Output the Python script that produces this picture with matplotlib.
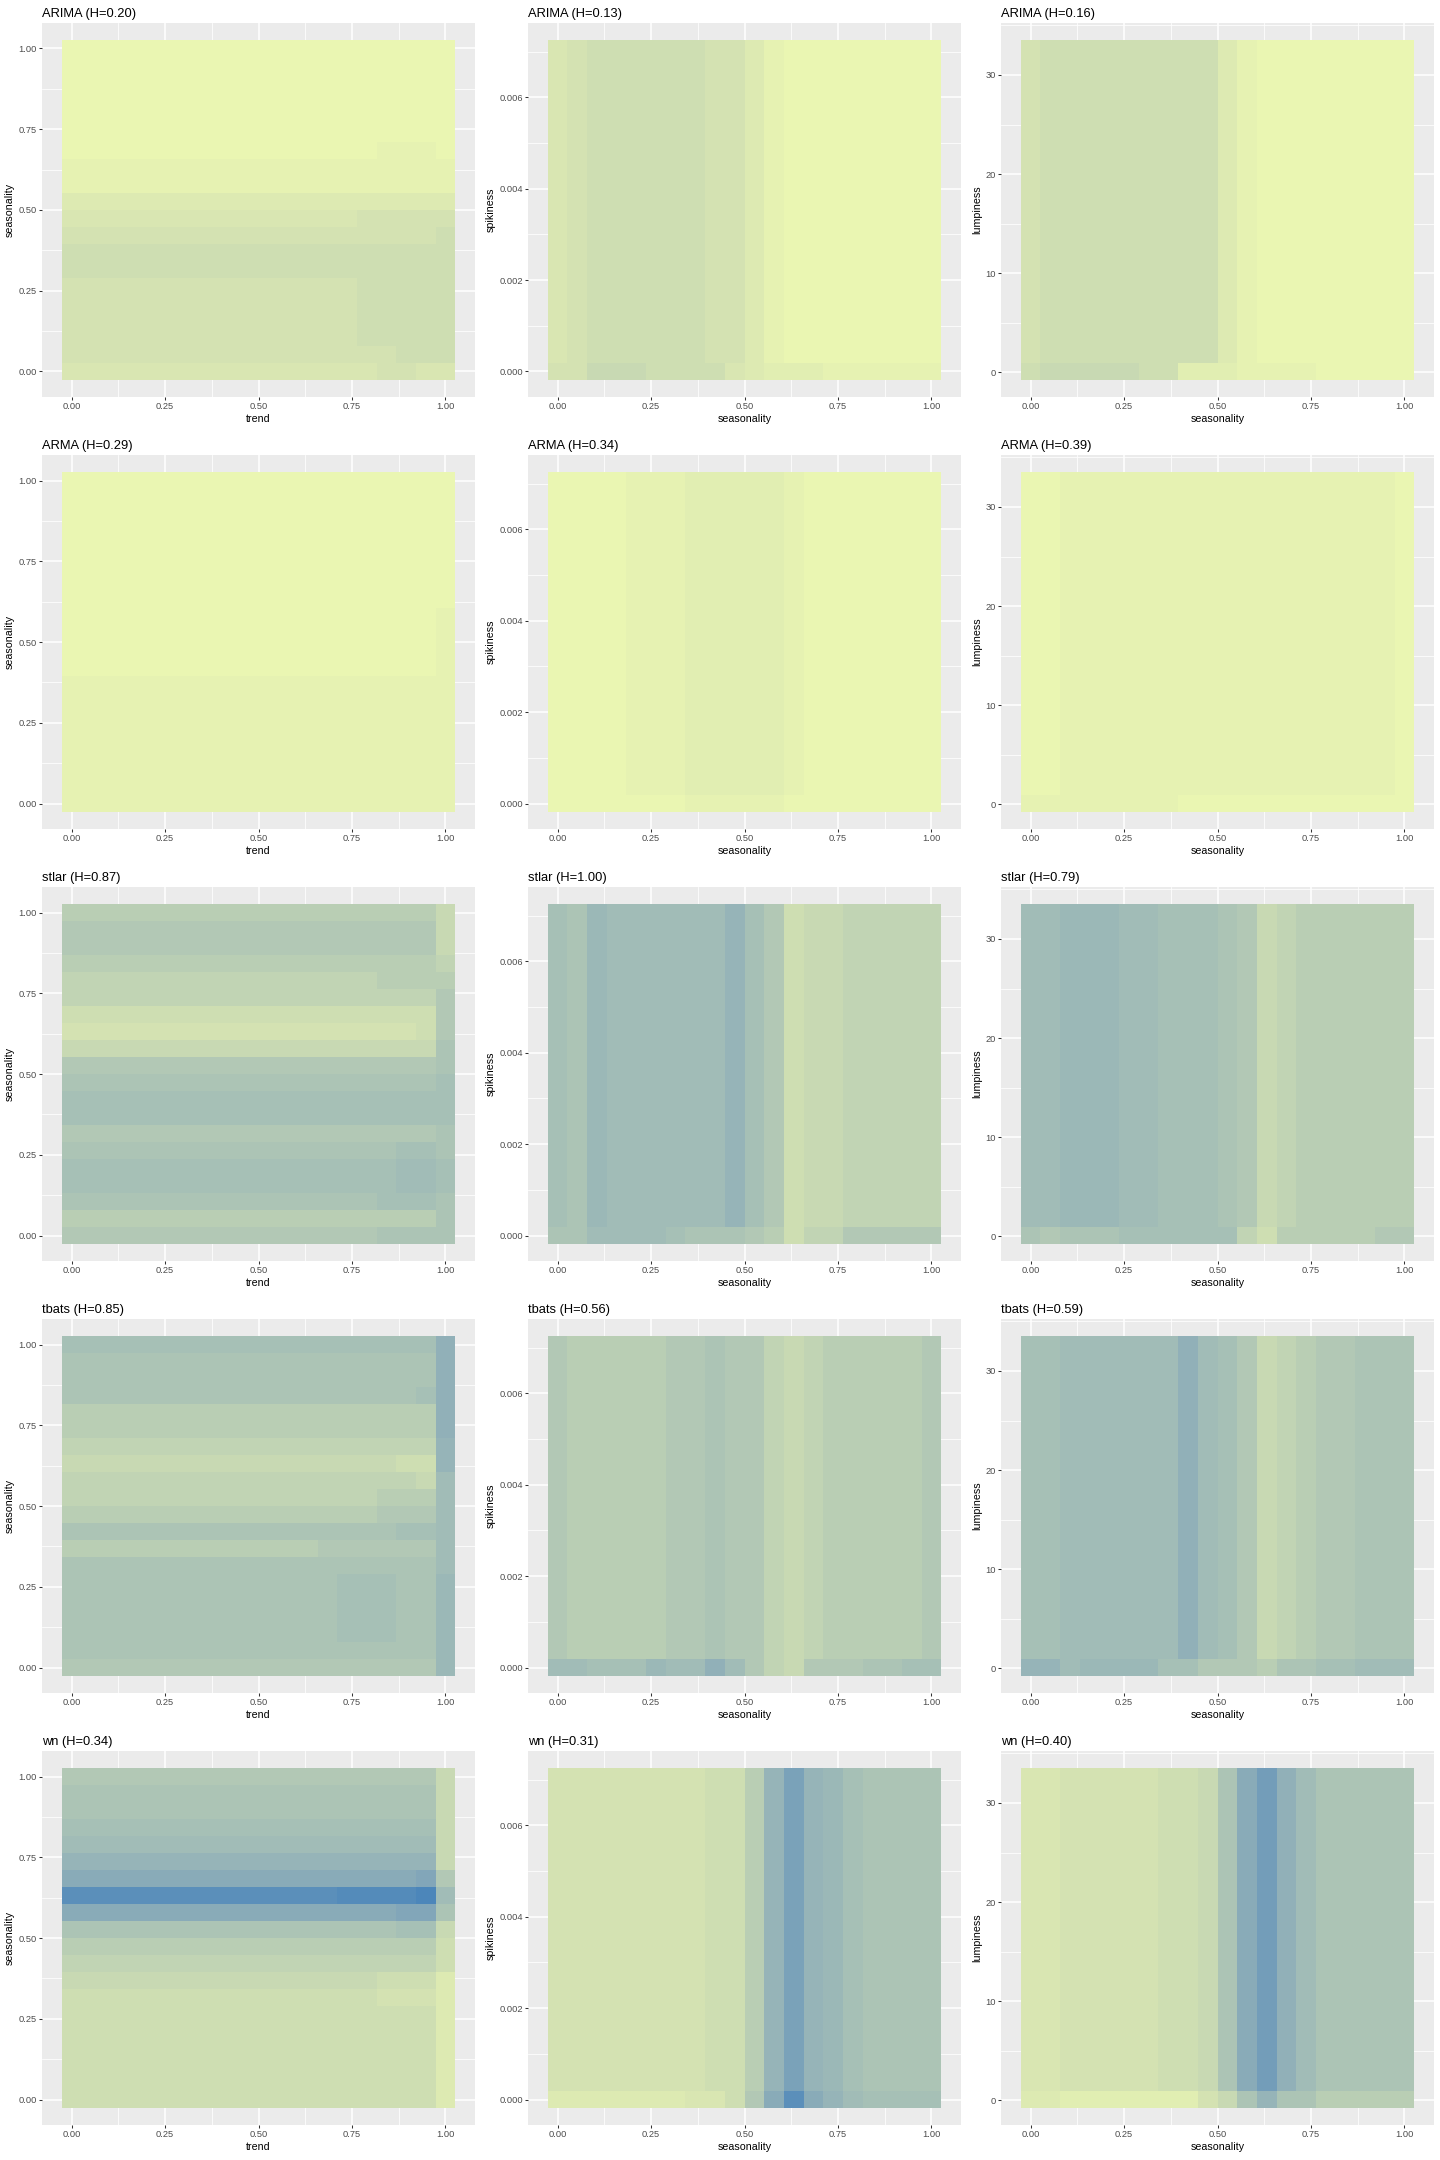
import numpy as np
import matplotlib
matplotlib.use('Agg')
import matplotlib.pyplot as plt
from matplotlib.colors import LinearSegmentedColormap

plt.rcParams['font.family'] = ['Liberation Sans', 'DejaVu Sans']

# fill level of each tile, coded a (low, yellow) .. z (high, blue)
LEVELS = 'abcdefghijklmnopqrstuvwxyz'

# grid points of the partial dependence (20 per feature)
trend_grid = np.linspace(0.0, 1.0, 20)
seasonality_grid = np.linspace(0.0, 1.0, 20)
spikiness_grid = np.linspace(0.0, 0.00707, 20)
lumpiness_grid = np.linspace(0.1, 32.67, 20)

titles = ['ARIMA (H=0.20)', 'ARIMA (H=0.13)', 'ARIMA (H=0.16)',
          'ARMA (H=0.29)', 'ARMA (H=0.34)', 'ARMA (H=0.39)',
          'stlar (H=0.87)', 'stlar (H=1.00)', 'stlar (H=0.79)',
          'tbats (H=0.85)', 'tbats (H=0.56)', 'tbats (H=0.59)',
          'wn (H=0.34)', 'wn (H=0.31)', 'wn (H=0.40)']

# trend x seasonality panels: one string per seasonality row (bottom -> top),
# one char per trend column (left -> right)
arima_ts = ['eeeeeeeeeeeeeeeeffee',
            'fffffffffffffffffggg',
            'fffffffffffffffggggg',
            'fffffffffffffffggggg',
            'fffffffffffffffggggg',
            'fffffffffffffffggggg',
            'gggggggggggggggggggg',
            'gggggggggggggggggggg',
            'fffffffffffffffffffg',
            'eeeeeeeeeeeeeeefffff',
            'dddddddddddddddddddd',
            'bbbbbbbbbbbbbbbbbbbb',
            'bbbbbbbbbbbbbbbbbbbb',
            'aaaaaaaaaaaaaaaabbba',
            'aaaaaaaaaaaaaaaaaaaa',
            'aaaaaaaaaaaaaaaaaaaa',
            'aaaaaaaaaaaaaaaaaaaa',
            'aaaaaaaaaaaaaaaaaaaa',
            'aaaaaaaaaaaaaaaaaaaa',
            'aaaaaaaaaaaaaaaaaaaa']
arma_ts = ['bbbbbbbbbbbbbbbbbbbb',
           'bbbbbbbbbbbbbbbbbbbb',
           'bbbbbbbbbbbbbbbbbbbb',
           'bbbbbbbbbbbbbbbbbbbb',
           'bbbbbbbbbbbbbbbbbbbb',
           'bbbbbbbbbbbbbbbbbbbb',
           'bbbbbbbbbbbbbbbbbbbb',
           'bbbbbbbbbbbbbbbbbbbb',
           'aaaaaaaaaaaaaaaaaaab',
           'aaaaaaaaaaaaaaaaaaab',
           'aaaaaaaaaaaaaaaaaaab',
           'aaaaaaaaaaaaaaaaaaab',
           'aaaaaaaaaaaaaaaaaaaa',
           'aaaaaaaaaaaaaaaaaaaa',
           'aaaaaaaaaaaaaaaaaaaa',
           'aaaaaaaaaaaaaaaaaaaa',
           'aaaaaaaaaaaaaaaaaaaa',
           'aaaaaaaaaaaaaaaaaaaa',
           'aaaaaaaaaaaaaaaaaaaa',
           'aaaaaaaaaaaaaaaaaaaa']
stlar_ts = ['kkkkkkkkkkkkkkkkllll',
            'jjjjjjjjjjjjjjjjjjjl',
            'llllllllllllllllmmml',
            'mmmmmmmmmmmmmmmmmnnm',
            'mmmmmmmmmmmmmmmmmnnm',
            'lllllllllllllllllmml',
            'kkkkkkkkkkkkkkkkkkkl',
            'mmmmmmmmmmmmmmmmmmmm',
            'mmmmmmmmmmmmmmmmmmmm',
            'lllllllllllllllllllm',
            'kkkkkkkkkkkkkkkkkkkl',
            'hhhhhhhhhhhhhhhhhhhl',
            'ffffffffffffffffffgk',
            'gggggggggggggggggggk',
            'iiiiiiiiiiiiiiiiiiik',
            'iiiiiiiiiiiiiiiijjjj',
            'jjjjjjjjjjjjjjjjjjji',
            'kkkkkkkkkkkkkkkkkkkh',
            'kkkkkkkkkkkkkkkkkkkh',
            'jjjjjjjjjjjjjjjjjjjh']
tbats_ts = ['kkkkkkkkkkkkkkkkkkko',
            'lllllllllllllllllllo',
            'llllllllllllllmmmllo',
            'llllllllllllllmmmllo',
            'llllllllllllllmmmllo',
            'llllllllllllllmmmllo',
            'llllllllllllllllllln',
            'jjjjjjjjjjjjjkkkkkkn',
            'lllllllllllllllllmmn',
            'jjjjjjjjjjjjjjjjkkkn',
            'iiiiiiiiiiiiiiiijjjn',
            'iiiiiiiiiiiiiiiiiihn',
            'hhhhhhhhhhhhhhhhhggp',
            'iiiiiiiiiiiiiiiiiiip',
            'jjjjjjjjjjjjjjjjjjjq',
            'jjjjjjjjjjjjjjjjjjjq',
            'llllllllllllllllllmq',
            'lllllllllllllllllllq',
            'lllllllllllllllllllq',
            'mmmmmmmmmmmmmmmmmmmq']
wn_ts = ['gggggggggggggggggggd',
         'gggggggggggggggggggd',
         'gggggggggggggggggggd',
         'gggggggggggggggggggd',
         'gggggggggggggggggggd',
         'gggggggggggggggggggd',
         'ggggggggggggggggfffd',
         'hhhhhhhhhhhhhhhhgggd',
         'iiiiiiiiiiiiiiiiiiig',
         'jjjjjjjjjjjjjjjjjjjg',
         'lllllllllllllllllmmh',
         'rrrrrrrrrrrrrrrrrssl',
         'xxxxxxxxxxxxxxyyyyzn',
         'rrrrrrrrrrrrrrrrrrsk',
         'ppppppppppppppppppph',
         'nnnnnnnnnnnnnnnnnnnh',
         'mmmmmmmmmmmmmmmmmmmh',
         'lllllllllllllllllllh',
         'lllllllllllllllllllh',
         'kkkkkkkkkkkkkkkkkkkh']

# seasonality x spikiness / lumpiness panels: the lowest row of tiles,
# and the rows above it (all the same), one char per seasonality column
arima_spk_low, arima_spk_up = 'ffhhhggggedcccbbbbbb', 'efggggggffdbaaaaaaaa'
arima_lmp_low, arima_lmp_up = 'ghhhhhggcccbbbbaaaaa', 'fgggggggggdbaaaaaaaa'
arma_spk_low, arma_spk_up = 'aaaaaaabbbbbaaaaaaaa', 'aaaabbbcccccbaaaaaaa'
arma_lmp_low, arma_lmp_up = 'bbbbbbbbaaaaaaaaaaaa', 'aabbbbbbbbbbbbbbbbba'
stlar_spk_low, stlar_spk_up = 'llnnnnmlllkjgiikkkkk', 'mlonnnnnnpmkghhiiiii'
stlar_lmp_low, stlar_lmp_up = 'lklllmmmmmmigjjjjjkk', 'nnooonnmmmlkhijjjjjj'
tbats_spk_low, tbats_spk_up = 'nnmmmonnqnkihkkkllmm', 'kjjjjjkklkkihijjjjjk'
tbats_lmp_low, tbats_lmp_up = 'ppnoooommkkkjllmmnnn', 'mmnnnnnnqnmkhijkklll'
wn_spk_low, wn_spk_up = 'dddddddeegkrxrpnmmmm', 'ffffffffggjptpomllll'
wn_lmp_low, wn_lmp_up = 'ddcccccccfhlplljjjjj', 'eefffffgghlruqnlllll'

# colour scale (low -> high)
cmap = LinearSegmentedColormap.from_list('pd', [
    (0 / 25, (234 / 255, 246 / 255, 178 / 255)),
    (5 / 25, (212 / 255, 226 / 255, 178 / 255)),
    (7 / 25, (200 / 255, 217 / 255, 179 / 255)),
    (10 / 25, (178 / 255, 200 / 255, 181 / 255)),
    (12 / 25, (166 / 255, 192 / 255, 182 / 255)),
    (16 / 25, (145 / 255, 176 / 255, 184 / 255)),
    (20 / 25, (115 / 255, 157 / 255, 185 / 255)),
    (25 / 25, (76 / 255, 134 / 255, 186 / 255))])


def decode(rows):
    return np.array([[LEVELS.index(c) for c in r] for r in rows], dtype=float)


def stack(low, up):
    # bottom row differs, the 19 rows above it share one profile
    return decode([low] + [up] * 19)


panels = [decode(arima_ts), stack(arima_spk_low, arima_spk_up), stack(arima_lmp_low, arima_lmp_up),
          decode(arma_ts), stack(arma_spk_low, arma_spk_up), stack(arma_lmp_low, arma_lmp_up),
          decode(stlar_ts), stack(stlar_spk_low, stlar_spk_up), stack(stlar_lmp_low, stlar_lmp_up),
          decode(tbats_ts), stack(tbats_spk_low, tbats_spk_up), stack(tbats_lmp_low, tbats_lmp_up),
          decode(wn_ts), stack(wn_spk_low, wn_spk_up), stack(wn_lmp_low, wn_lmp_up)]

unit_ticks = [0, 0.25, 0.5, 0.75, 1.0]
unit_labels = ['0.00', '0.25', '0.50', '0.75', '1.00']
col_spec = [
    dict(xg=trend_grid, yg=seasonality_grid, xlab='trend', ylab='seasonality',
         yt=unit_ticks, ytl=unit_labels),
    dict(xg=seasonality_grid, yg=spikiness_grid, xlab='seasonality', ylab='spikiness',
         yt=[0, 0.002, 0.004, 0.006], ytl=['0.000', '0.002', '0.004', '0.006']),
    dict(xg=seasonality_grid, yg=lumpiness_grid, xlab='seasonality', ylab='lumpiness',
         yt=[0, 10, 20, 30], ytl=['0', '10', '20', '30']),
]


def limits(g):
    step = g[1] - g[0]
    lo, hi = g[0] - step / 2, g[-1] + step / 2
    pad = (hi - lo) * 0.05
    return lo - pad, hi + pad


def minors(ticks, lim):
    d = ticks[1] - ticks[0]
    m = np.arange(ticks[0] - d / 2, ticks[-1] + d, d)
    return [v for v in m if lim[0] <= v <= lim[1]]


W, H = 1440, 2160
fig = plt.figure(figsize=(W / 100, H / 100), dpi=100)

lefts = [42, 528, 1001]
tops = [23, 455, 887, 1319, 1751]
pw, ph = 433, 374

for k, z in enumerate(panels):
    r, c = divmod(k, 3)
    spec = col_spec[c]
    ax = fig.add_axes([lefts[c] / W, 1 - (tops[r] + ph) / H, pw / W, ph / H])
    ax.set_facecolor('#EBEBEB')
    ax.set_axisbelow(True)
    ax.pcolormesh(spec['xg'], spec['yg'], z, shading='nearest', cmap=cmap,
                  vmin=0, vmax=25, linewidth=0)
    xlim = limits(spec['xg'])
    ylim = limits(spec['yg'])
    ax.set_xlim(xlim)
    ax.set_ylim(ylim)
    ax.set_xticks(unit_ticks)
    ax.set_xticklabels(unit_labels)
    ax.set_yticks(spec['yt'])
    ax.set_yticklabels(spec['ytl'])
    ax.set_xticks(minors(unit_ticks, xlim), minor=True)
    ax.set_yticks(minors(spec['yt'], ylim), minor=True)
    ax.grid(which='major', color='white', linewidth=1.1)
    ax.grid(which='minor', color='white', linewidth=0.55)
    for s in ax.spines.values():
        s.set_visible(False)
    ax.tick_params(which='major', length=2.0, width=0.75, color='#333333',
                   labelsize=6.7, labelcolor='#4D4D4D', pad=1.6)
    ax.tick_params(which='minor', length=0)
    ax.set_xlabel(spec['xlab'], fontsize=7.7, labelpad=2.5)
    ax.set_ylabel(spec['ylab'], fontsize=7.7, labelpad=2.5)
    fig.text(lefts[c] / W, 1 - (tops[r] - 6) / H, titles[k], fontsize=9.3,
             ha='left', va='baseline')

fig.savefig('out.png', dpi=100)
